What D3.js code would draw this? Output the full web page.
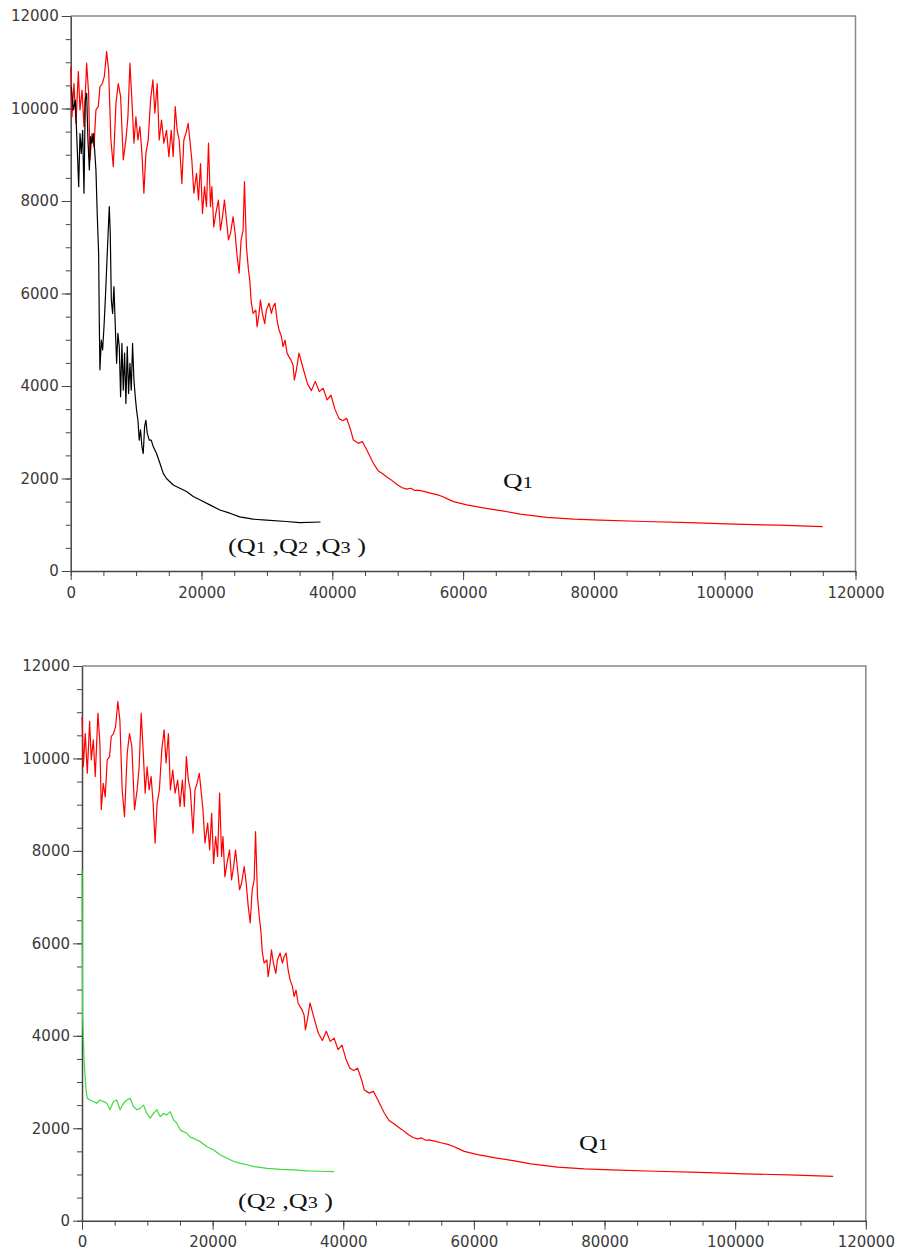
<!DOCTYPE html>
<meta charset="utf-8">
<style>
body { margin: 0; background: #fff; }
.tick text { font-family: "DejaVu Sans", sans-serif; font-size: 15px; fill: #3a3a3a; }
.axis path, .axis line { stroke: #444; }
.label { font-family: "Liberation Serif", "DejaVu Serif", serif; fill: #111; }
</style>
<svg width="898" height="1256"></svg>
<script src="https://d3js.org/d3.v7.min.js"></script>
<script>

// Q1 alone (red) -- same run shown in both panels
var q1 = [
  [0, 10900], [200, 9820], [500, 10540], [810, 9680], [1170, 10800], [1420, 9970], [1730, 10400],
  [2030, 9610], [2440, 10980], [2740, 10330], [2950, 8890], [3250, 9460], [3560, 9170], [3860, 9970],
  [4220, 10040], [4470, 10470], [4830, 10540], [5140, 10690], [5490, 11230], [5800, 10830],
  [6150, 9320], [6510, 8740], [6920, 10110], [7270, 10540], [7630, 10260], [8040, 8890], [8440, 9320],
  [8750, 9820], [9060, 10980], [9410, 10040], [9670, 9250], [9970, 9820], [10280, 9320], [10580, 9610],
  [10890, 9030], [11190, 8170], [11500, 9030], [11850, 9320], [12210, 10180], [12570, 10620],
  [12870, 9900], [13230, 10540], [13530, 9320], [13890, 9750], [14250, 9250], [14650, 9530],
  [15010, 8960], [15370, 9530], [15670, 8960], [15980, 10040], [16280, 9530], [16590, 9320],
  [17000, 8380], [17300, 9320], [17610, 9460], [17960, 9680], [18220, 9320], [18520, 8890],
  [18830, 8170], [19240, 8600], [19540, 8020], [19850, 8810], [20150, 7730], [20460, 8310],
  [20760, 7880], [21070, 9250], [21370, 7880], [21580, 8310], [21880, 7440], [22190, 7730],
  [22590, 8020], [22900, 7370], [23210, 7660], [23510, 8020], [23820, 7590], [24120, 7160],
  [24430, 7300], [24830, 7660], [25140, 7300], [25450, 6800], [25750, 6440], [26060, 7160],
  [26360, 7370], [26570, 8420], [26870, 7010], [27180, 6510], [27380, 6290], [27580, 5860],
  [27630, 5790], [27890, 5570], [28300, 5640], [28500, 5280], [28800, 5570], [29010, 5860],
  [29310, 5570], [29670, 5350], [29920, 5640], [30330, 5790], [30690, 5570], [30940, 5710],
  [31250, 5790], [31550, 5430], [31860, 5210], [32220, 5070], [32470, 4850], [32770, 4990],
  [33080, 4710], [33390, 4630], [33690, 4560], [34000, 4450], [34200, 4130], [34510, 4350],
  [34910, 4710], [35500, 4400], [36200, 4050], [36800, 3900], [37400, 4100], [38000, 3880],
  [38600, 3950], [39200, 3700], [39800, 3800], [40400, 3500], [41000, 3300], [41600, 3250],
  [42200, 3300], [42800, 3050], [43220, 2830], [44000, 2760], [44600, 2800], [45260, 2620],
  [46280, 2330], [47000, 2170], [47640, 2110], [48300, 2040], [49000, 1970], [50000, 1860],
  [50700, 1800], [51380, 1770], [52000, 1790], [52600, 1740], [53080, 1750], [54000, 1720],
  [55130, 1680], [56000, 1650], [56830, 1610], [57600, 1560], [58530, 1500], [60570, 1430],
  [63290, 1360], [66010, 1300], [68730, 1230], [72820, 1160], [76900, 1120], [80980, 1100],
  [87780, 1070], [94590, 1045], [101390, 1015], [108200, 990], [115000, 960]
];

// (Q1, Q2, Q3) together (black)
var q123 = [
  [100, 10470], [400, 9970], [710, 10180], [1010, 9100], [1220, 8310], [1420, 9460], [1620, 9030],
  [1830, 9530], [2030, 8170], [2230, 10180], [2440, 10330], [2640, 9320], [2850, 8670], [3050, 9390],
  [3250, 9250], [3460, 9460], [3660, 9100], [3860, 8670], [4070, 7660], [4270, 6870], [4370, 5430],
  [4470, 4350], [4680, 4990], [4880, 4780], [5090, 5280], [5290, 5860], [5600, 6900], [5900, 7880],
  [6050, 7300], [6210, 5860], [6410, 5570], [6610, 6150], [6820, 5280], [7020, 4490], [7220, 5140],
  [7430, 4850], [7630, 3770], [7830, 4920], [8040, 3910], [8240, 4710], [8440, 3620], [8650, 4850],
  [8850, 3840], [9060, 4490], [9260, 3910], [9460, 4920], [9670, 4130], [9870, 3770], [10070, 3480],
  [10280, 3260], [10480, 2830], [10680, 3050], [10890, 2690], [11090, 2540], [11300, 3120],
  [11500, 3260], [11700, 2980], [12010, 2830], [12310, 2830], [12620, 2690], [13130, 2540],
  [13640, 2330], [14150, 2110], [14650, 2000], [15670, 1860], [16690, 1790], [17710, 1720],
  [18730, 1610], [19740, 1540], [21270, 1430], [22800, 1320], [24330, 1250], [25850, 1170],
  [27890, 1120], [29920, 1100], [32980, 1070], [35010, 1045], [38200, 1060]
];

// (Q2, Q3) together (green)
var q23 = [
  [0, 7600], [50, 5600], [100, 4420], [310, 3480], [620, 2830], [820, 2650], [1230, 2610], [1740, 2580],
  [2250, 2540], [2760, 2610], [3280, 2580], [3790, 2540], [4300, 2400], [4810, 2580], [5320, 2610],
  [5830, 2400], [6350, 2540], [6860, 2610], [7370, 2650], [7880, 2470], [8390, 2400], [8900, 2430],
  [9420, 2500], [9930, 2320], [10440, 2220], [10950, 2320], [11460, 2400], [11980, 2250],
  [12490, 2320], [13000, 2290], [13510, 2360], [14020, 2180], [14530, 2110], [15050, 1960],
  [16070, 1890], [16580, 1810], [17090, 1780], [18120, 1710], [19140, 1600], [20160, 1530],
  [21190, 1420], [22210, 1350], [23230, 1280], [24260, 1240], [25280, 1210], [26300, 1170],
  [28350, 1130], [30400, 1110], [32440, 1100], [34490, 1080], [36540, 1070], [38580, 1060]
];

var xTicks = [0, 20000, 40000, 60000, 80000, 100000, 120000];
var yTicks = [0, 2000, 4000, 6000, 8000, 10000, 12000];

var svg = d3.select("svg");

function drawPanel(p) {
  var x = d3.scaleLinear().domain([0, 120000]).range([p.left, p.right]);
  var y = d3.scaleLinear().domain([0, 12000]).range([p.bottom, p.top]);
  var g = svg.append("g");

  // frame: top and right in lighter grey
  g.append("path")
    .attr("d", "M" + p.left + "," + p.top + "H" + p.right + "V" + p.bottom)
    .attr("fill", "none").attr("stroke", "#888").attr("stroke-width", 1.5);

  // minor ticks
  g.append("g").attr("class", "axis")
    .attr("transform", "translate(0," + p.bottom + ")")
    .call(d3.axisBottom(x).tickValues(d3.range(0, 120001, 5000)).tickSize(5).tickFormat(""))
    .call(function(s) { s.select(".domain").remove(); });
  g.append("g").attr("class", "axis")
    .attr("transform", "translate(" + p.left + ",0)")
    .call(d3.axisLeft(y).tickValues(d3.range(0, 12001, 500)).tickSize(5).tickFormat(""))
    .call(function(s) { s.select(".domain").remove(); });

  var xa = g.append("g").attr("class", "axis")
    .attr("transform", "translate(0," + p.bottom + ")")
    .call(d3.axisBottom(x).tickValues(xTicks).tickSize(9).tickSizeOuter(0).tickPadding(7).tickFormat(d3.format("d")));
  var ya = g.append("g").attr("class", "axis")
    .attr("transform", "translate(" + p.left + ",0)")
    .call(d3.axisLeft(y).tickValues(yTicks).tickSize(9).tickSizeOuter(0).tickPadding(3).tickFormat(d3.format("d")));
  xa.select(".domain").attr("stroke-width", 1.5);
  ya.select(".domain").attr("stroke-width", 1.5);

  var line = d3.line().x(function(d) { return x(d[0]); }).y(function(d) { return y(d[1]); });
  p.series.forEach(function(s) {
    g.append("path").datum(s.data)
      .attr("d", line)
      .attr("fill", "none")
      .attr("stroke", s.color)
      .attr("stroke-width", 1.2)
      .attr("stroke-linejoin", "round");
  });

  // the original labels look stretched sideways, so fit each to its width
  p.labels.forEach(function(l) {
    var t = g.append("text").attr("class", "label")
      .attr("x", l.x).attr("y", l.y).attr("font-size", 22)
      .attr("textLength", l.w).attr("lengthAdjust", "spacingAndGlyphs");
    l.parts.forEach(function(part) {
      t.append("tspan").attr("font-size", part.sub ? 17 : 22).text(part.t);
    });
  });
}

drawPanel({
  left: 70.7, right: 855.5, top: 16, bottom: 571,
  series: [{ data: q1, color: "#f00" }, { data: q123, color: "#000" }],
  labels: [
    { x: 503, y: 488, w: 30, parts: [{ t: "Q" }, { t: "1", sub: true }] },
    { x: 228, y: 553, w: 138, parts: [{ t: "(Q" }, { t: "1", sub: true }, { t: " ,Q" }, { t: "2", sub: true },
      { t: " ,Q" }, { t: "3", sub: true }, { t: " )" }] }
  ]
});

drawPanel({
  left: 82, right: 865.8, top: 666, bottom: 1220.7,
  series: [{ data: q1, color: "#f00" }, { data: q23, color: "#3ddc3d" }],
  labels: [
    { x: 579, y: 1150, w: 29, parts: [{ t: "Q" }, { t: "1", sub: true }] },
    { x: 238, y: 1208, w: 95, parts: [{ t: "(Q" }, { t: "2", sub: true }, { t: " ,Q" }, { t: "3", sub: true },
      { t: " )" }] }
  ]
});

</script>
